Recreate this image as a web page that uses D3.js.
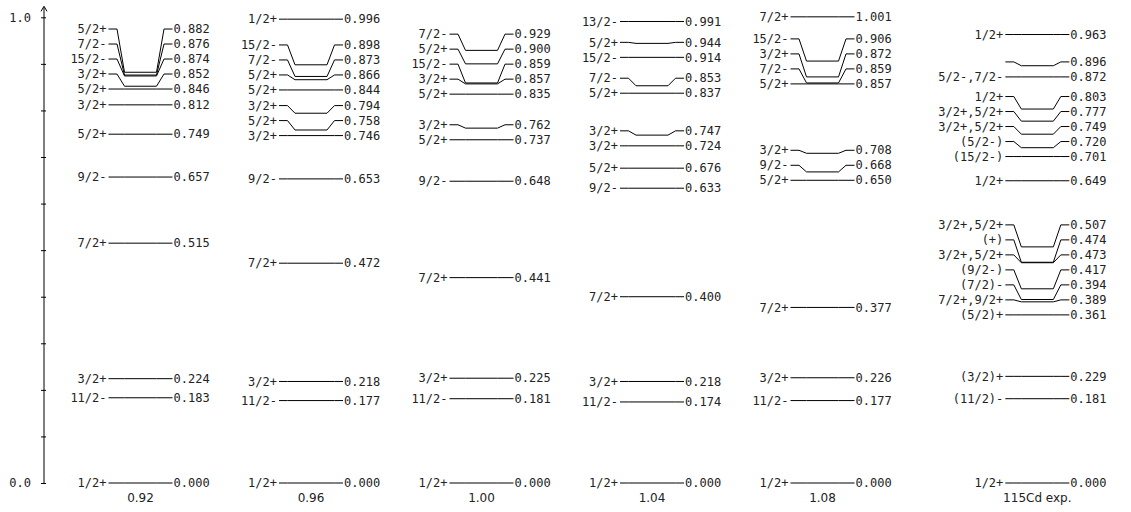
<!DOCTYPE html>
<html>
<head>
<meta charset="utf-8">
<script src="https://cdn.jsdelivr.net/npm/d3@7/dist/d3.min.js"></script>
<style>
  html, body { margin: 0; padding: 0; background: #fff; }
  svg { display: block; }
  .lvl text, .yax text { font-family: "DejaVu Sans Mono", monospace; font-size: 12px; fill: #222; }
  .col-name { font-family: "DejaVu Sans", sans-serif; font-size: 12px; fill: #222; }
</style>
</head>
<body>
<svg id="chart" width="1131" height="512"></svg>
<script>
// Column titles (parameter value of each calculation, then experiment)
const columns = ["0.92", "0.96", "1.00", "1.04", "1.08", "115Cd exp."];

// Level energies (MeV) and spin-parity labels, one pair of arrays per column
const energies092 = [0.000, 0.183, 0.224, 0.515, 0.657, 0.749, 0.812, 0.846, 0.852, 0.874, 0.876, 0.882];
const spins092    = ["1/2+", "11/2-", "3/2+", "7/2+", "9/2-", "5/2+", "3/2+", "5/2+", "3/2+", "15/2-", "7/2-", "5/2+"];

const energies096 = [0.000, 0.177, 0.218, 0.472, 0.653, 0.746, 0.758, 0.794, 0.844, 0.866, 0.873, 0.898, 0.996];
const spins096    = ["1/2+", "11/2-", "3/2+", "7/2+", "9/2-", "3/2+", "5/2+", "3/2+", "5/2+", "5/2+", "7/2-", "15/2-", "1/2+"];

const energies100 = [0.000, 0.181, 0.225, 0.441, 0.648, 0.737, 0.762, 0.835, 0.857, 0.859, 0.900, 0.929];
const spins100    = ["1/2+", "11/2-", "3/2+", "7/2+", "9/2-", "5/2+", "3/2+", "5/2+", "3/2+", "15/2-", "5/2+", "7/2-"];

const energies104 = [0.000, 0.174, 0.218, 0.400, 0.633, 0.676, 0.724, 0.747, 0.837, 0.853, 0.914, 0.944, 0.991];
const spins104    = ["1/2+", "11/2-", "3/2+", "7/2+", "9/2-", "5/2+", "3/2+", "3/2+", "5/2+", "7/2-", "15/2-", "5/2+", "13/2-"];

const energies108 = [0.000, 0.177, 0.226, 0.377, 0.650, 0.668, 0.708, 0.857, 0.859, 0.872, 0.906, 1.001];
const spins108    = ["1/2+", "11/2-", "3/2+", "7/2+", "5/2+", "9/2-", "3/2+", "5/2+", "7/2-", "3/2+", "15/2-", "7/2+"];

const energiesExp = [0.000, 0.181, 0.229, 0.361, 0.389, 0.394, 0.417, 0.473, 0.474, 0.507,
                     0.649, 0.701, 0.720, 0.749, 0.777, 0.803, 0.872, 0.896, 0.963];
const spinsExp    = ["1/2+", "(11/2)-", "(3/2)+", "(5/2)+", "7/2+,9/2+", "(7/2)-", "(9/2-)", "3/2+,5/2+", "(+)", "3/2+,5/2+",
                     "1/2+", "(15/2-)", "(5/2-)", "3/2+,5/2+", "3/2+,5/2+", "1/2+", "5/2-,7/2-", "", "1/2+"];

// Y-axis tick values
const yTicks = [0.0, 0.1, 0.2, 0.3, 0.4, 0.5, 0.6, 0.7, 0.8, 0.9, 1.0];
const yTickLabels = ["0.0", "", "", "", "", "", "", "", "", "", "1.0"];

const schemes = [
  { energies: energies092, spins: spins092 },
  { energies: energies096, spins: spins096 },
  { energies: energies100, spins: spins100 },
  { energies: energies104, spins: spins104 },
  { energies: energies108, spins: spins108 },
  { energies: energiesExp, spins: spinsExp }
];

const svg = d3.select("#chart");

// Energy scale
const y = d3.scaleLinear().domain([0, 1]).range([483, 17.3]);

// Column placement: the experimental column sits a little further out
const slot = i => (i < columns.length - 1 ? i : i + 0.26);
const x = d3.scaleLinear().domain([0, 1]).range([108.5, 279]);

const lineW = 64;     // length of a level line
const stubA = 8.5;    // flat stub under a label
const stubB = 16;     // where the connector meets the true level
const minSep = 15;    // minimum vertical distance between labels (px)

// Vertical axis
const axisX = 44;
const yax = svg.append("g").attr("class", "yax");
yax.append("line")
  .attr("x1", axisX).attr("x2", axisX)
  .attr("y1", y(0)).attr("y2", y(1) - 10)
  .attr("stroke", "#000").attr("stroke-width", 1);
yax.append("path")
  .attr("d", `M${axisX - 3},${y(1) - 6}L${axisX},${y(1) - 11}L${axisX + 3},${y(1) - 6}`)
  .attr("fill", "none").attr("stroke", "#000").attr("stroke-width", 1);

const leftAxis = d3.axisLeft(y).tickValues(yTicks)
  .tickFormat((d, i) => yTickLabels[i]).tickSize(3).tickPadding(10);
const rightAxis = d3.axisRight(y).tickValues(yTicks).tickFormat("").tickSize(2);
const gl = yax.append("g").attr("transform", `translate(${axisX},0)`).call(leftAxis);
const gr = yax.append("g").attr("transform", `translate(${axisX},0)`).call(rightAxis);
[gl, gr].forEach(g => {
  g.select(".domain").remove();
  g.selectAll(".tick line").attr("stroke", "#000");
});
gl.selectAll(".tick text").attr("font-family", "DejaVu Sans Mono, monospace").attr("font-size", 12).attr("fill", "#222");

// Level schemes
const line = d3.line();
schemes.forEach((s, ci) => {
  const x0 = x(slot(ci));
  const x1 = x0 + lineW;
  const levels = s.energies.map((e, k) => ({ e, spin: s.spins[k], yl: y(e) }))
    .sort((a, b) => a.e - b.e);
  // push crowded labels upward so they keep a minimum spacing
  let prev = Infinity;
  levels.forEach(l => {
    l.ly = Math.min(y(l.e), prev - minSep);
    prev = l.ly;
  });

  const g = svg.append("g").attr("class", "lvl");
  levels.forEach(l => {
    const pts = [
      [x0, l.ly], [x0 + stubA, l.ly], [x0 + stubB, l.yl],
      [x1 - stubB, l.yl], [x1 - stubA, l.ly], [x1, l.ly]
    ];
    g.append("path").attr("d", line(pts))
      .attr("fill", "none").attr("stroke", "#000").attr("stroke-width", 1);
    g.append("text")
      .attr("x", x0 - 2).attr("y", l.ly).attr("dy", "0.35em")
      .attr("text-anchor", "end").text(l.spin);
    g.append("text")
      .attr("x", x1 + 1).attr("y", l.ly).attr("dy", "0.35em")
      .attr("text-anchor", "start").text(l.e.toFixed(3));
  });

  svg.append("text").attr("class", "col-name")
    .attr("x", x0 + lineW / 2).attr("y", 502)
    .attr("text-anchor", "middle").text(columns[ci]);
});
</script>
</body>
</html>
